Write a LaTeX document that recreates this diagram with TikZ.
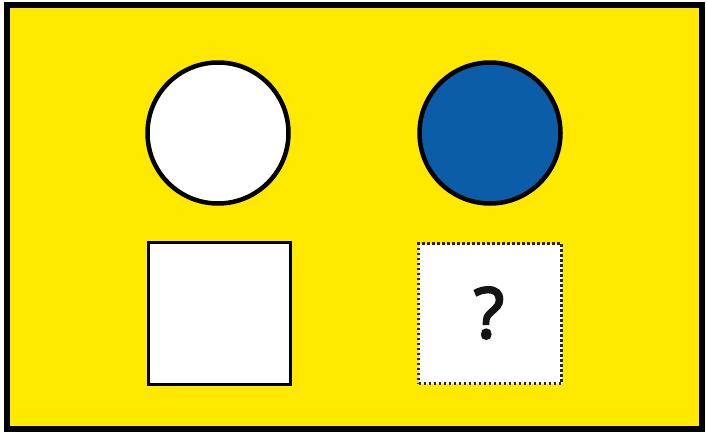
\documentclass[tikz,border=0pt]{standalone}
\usepackage{fontspec}
\setmainfont{Open Sans}
\newfontfamily\qfont[FakeBold=3.2]{Open Sans}
\definecolor{bgyellow}{HTML}{FFE900}
\definecolor{dotblue}{HTML}{0B5DA8}
\begin{document}
\begin{tikzpicture}[x=1pt,y=-1pt,
  frame/.style={draw=black,line width=6pt,fill=bgyellow},
  shapeline/.style={draw=black,line width=4.5pt},
  dotline/.style={draw=black!85,line width=3pt,dash pattern=on 2.6pt off 2.4pt}]
\useasboundingbox (0,0) rectangle (707,434);
\fill[white] (0,0) rectangle (707,434);
\path[frame] (7,5) rectangle (702,429);
\node[circle,shapeline,fill=white,minimum size=141pt,inner sep=0pt] (c1) at (218,133) {};
\node[circle,shapeline,fill=dotblue,minimum size=141pt,inner sep=0pt] (c2) at (490,133) {};
\node[rectangle,draw=black,line width=3.5pt,fill=white,minimum width=142pt,minimum height=142pt,inner sep=0pt] (s1) at (219.5,313.5) {};
\node[rectangle,dotline,fill=white,minimum width=143pt,minimum height=140pt,inner sep=0pt] (s2) at (490,313.5) {};
\node[font=\qfont\fontsize{70}{70}\selectfont,text=black!92] (q) at (489,313) {?};
\end{tikzpicture}
\end{document}
